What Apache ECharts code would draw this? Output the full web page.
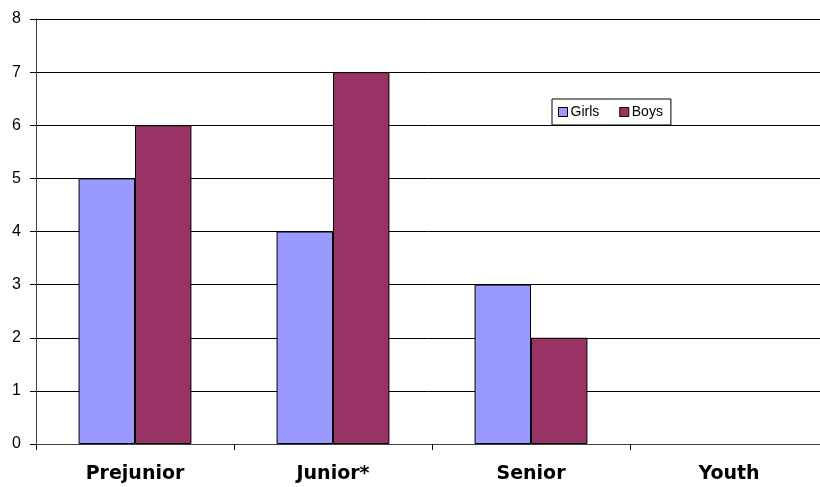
<!DOCTYPE html>
<html>
<head>
<meta charset="utf-8">
<script src="https://cdn.jsdelivr.net/npm/echarts@6/dist/echarts.min.js"></script>
<style>html,body{margin:0;padding:0;background:#fff}#c{width:820px;height:487px}</style>
</head>
<body>
<div id="c"></div>
<script>
var categories = ['Prejunior', 'Junior*', 'Senior', 'Youth'];
var girls = [5, 4, 3, 0];
var boys = [6, 7, 2, 0];
var yTicks = { min: 0, max: 8, interval: 1 };

function withStyle(arr) {
  return arr.map(function (v) {
    return v === 0 ? { value: v, itemStyle: { borderWidth: 0 } } : v;
  });
}

var chart = echarts.init(document.getElementById('c'));
chart.setOption({
  animation: false,
  backgroundColor: '#ffffff',
  grid: { left: 36, top: 19, height: 425, width: 792, containLabel: false, outerBoundsMode: 'none' },
  legend: {
    left: 552, top: 99,
    orient: 'horizontal',
    backgroundColor: '#fff',
    borderColor: '#000', borderWidth: 1,
    padding: [6, 8, 6, 6],
    itemWidth: 9, itemHeight: 9, itemGap: 20,
    icon: 'rect',
    textStyle: { fontFamily: 'Liberation Sans, Arial', fontSize: 14, color: '#000', padding: [0, 0, 0, -2] },
    data: [
      { name: 'Girls', itemStyle: { borderColor: '#000', borderWidth: 1 } },
      { name: 'Boys', itemStyle: { borderColor: '#000', borderWidth: 1 } }
    ]
  },
  xAxis: {
    type: 'category',
    data: categories,
    axisLine: { lineStyle: { color: '#404040', width: 1 } },
    axisTick: { show: true, length: 6, lineStyle: { color: '#000' } },
    axisLabel: { fontFamily: 'DejaVu Sans, Liberation Sans', fontWeight: 'bold', fontSize: 19, color: '#000', margin: 21 }
  },
  yAxis: {
    type: 'value',
    min: yTicks.min, max: yTicks.max, interval: yTicks.interval,
    axisLine: { show: true, lineStyle: { color: '#404040', width: 1 } },
    axisTick: { show: true, length: 6, lineStyle: { color: '#000' } },
    axisLabel: { fontFamily: 'Liberation Sans, Arial', fontSize: 16, color: '#000', margin: 15 },
    splitLine: { show: true, lineStyle: { color: '#000', width: 1 } }
  },
  series: [
    { name: 'Girls', type: 'bar', data: withStyle(girls), barGap: '0%', barCategoryGap: '43%',
      itemStyle: { color: '#9999FF', borderColor: '#000', borderWidth: 1 } },
    { name: 'Boys', type: 'bar', data: withStyle(boys), barGap: '0%', barCategoryGap: '43%',
      itemStyle: { color: '#993366', borderColor: '#000', borderWidth: 1 } }
  ]
});
</script>
</body>
</html>
